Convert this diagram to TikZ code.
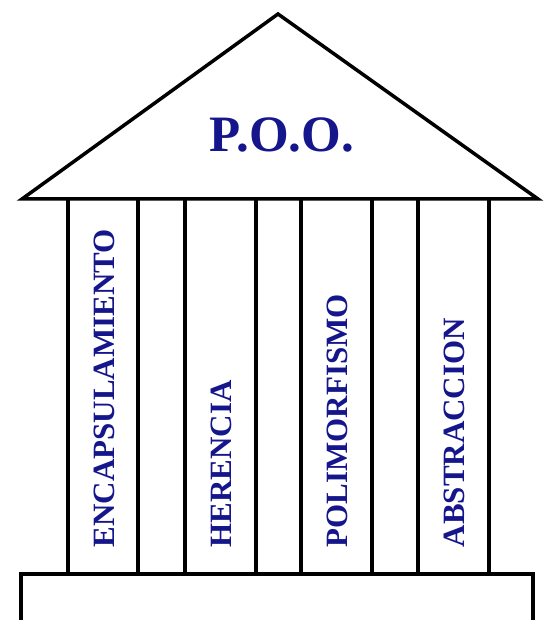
\documentclass[tikz,border=0pt]{standalone}
\usepackage{fontspec}
\setmainfont{Liberation Serif}
\definecolor{navy}{RGB}{22,22,140}
\begin{document}
\begin{tikzpicture}[x=1pt,y=-1pt, line width=3.5pt, line join=miter,
  lbl/.style={text=navy, font=\fontsize{31}{31}\selectfont\bfseries, inner sep=0pt, rotate=90, anchor=west},
  title/.style={text=navy, font=\fontsize{51}{51}\selectfont\bfseries, inner sep=0pt}]
\useasboundingbox (0,0) rectangle (545,620);
\fill[white] (0,0) rectangle (545,620);
% roof
\draw (22,199) -- (278,14) -- (538,199) -- cycle;
\node[title] (poo) at (282,134.5) {P.O.O.};
% columns
\foreach \a/\b in {68/138,185/256,301/372,418/489}{
  \draw (\a,199) -- (\a,574);
  \draw (\b,199) -- (\b,574);
}
\node[lbl] (enc) at (104,549) {ENCAPSULAMIENTO};
\node[lbl] (her) at (221,549) {HERENCIA};
\node[lbl] (pol) at (337,549) {POLIMORFISMO};
\node[lbl] (abs) at (454,549) {ABSTRACCION};
% base
\draw (21,625) -- (21,574) -- (533,574) -- (533,625);
\end{tikzpicture}
\end{document}
